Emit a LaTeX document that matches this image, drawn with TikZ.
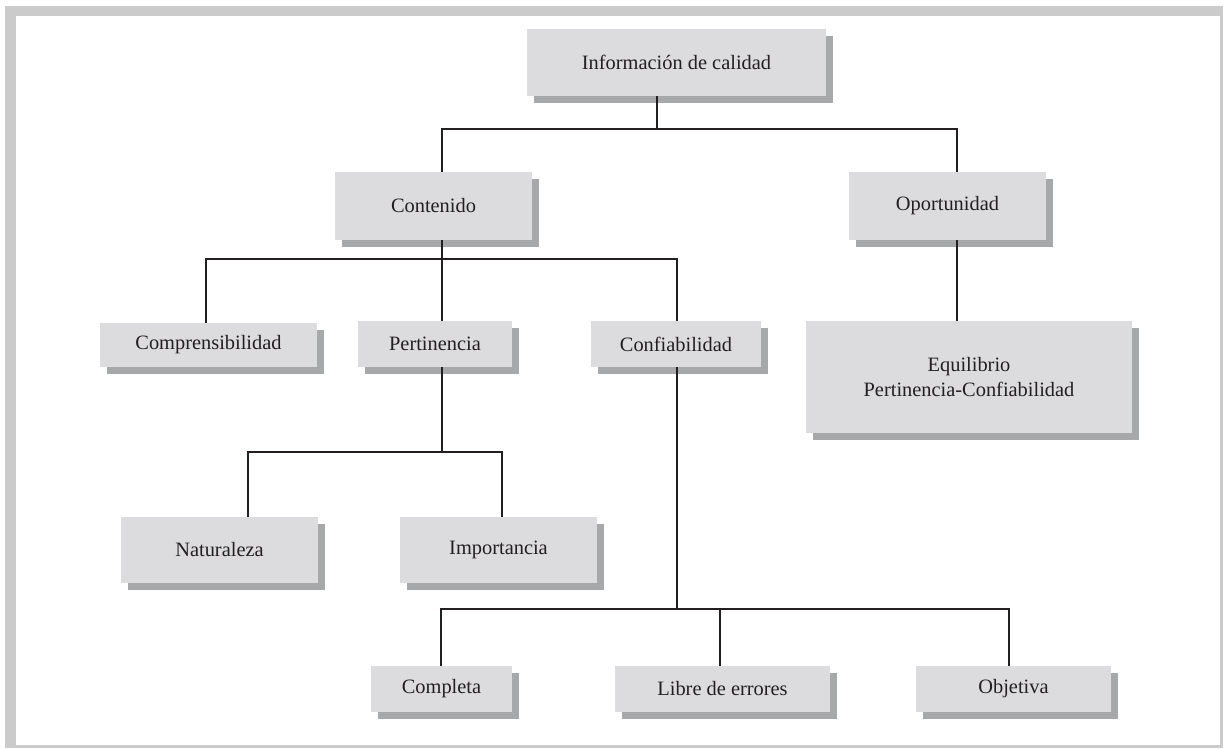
\documentclass[tikz,border=0pt]{standalone}
\usepackage{fontspec}
\setmainfont{Liberation Serif}
\usetikzlibrary{shadows}
\definecolor{framegray}{HTML}{CBCBCB}
\definecolor{boxfill}{HTML}{DCDCDE}
\definecolor{shadowgray}{HTML}{A7A8AA}
\definecolor{linecol}{HTML}{231F20}
\definecolor{textcol}{HTML}{231F20}
\begin{document}
\begin{tikzpicture}[x=1pt,y=-1pt,
  box/.style={fill=boxfill, draw=none, inner sep=0pt, text=textcol,
    font=\fontsize{20.4}{25}\selectfont, align=center,
    drop shadow={shadow xshift=7pt, shadow yshift=-7pt, fill=shadowgray, opacity=1}},
  conn/.style={draw=linecol, line width=1.5pt}]
\useasboundingbox (0,0) rectangle (1225,748);
\fill[framegray] (5,6) rectangle (1223,748);
\fill[white] (16,16) rectangle (1220,745);

\node[box, minimum width=299pt, minimum height=67pt] (info) at (676.5,62.5) {Información de calidad};
\node[box, minimum width=197pt, minimum height=68pt] (cont) at (433.5,206) {Contenido};
\node[box, minimum width=197pt, minimum height=68pt] (opor) at (947.5,206) {Oportunidad};
\node[box, minimum width=217pt, minimum height=44pt] (comp) at (208.5,345) {Comprensibilidad};
\node[box, minimum width=154pt, minimum height=46pt] (pert) at (435,344) {Pertinencia};
\node[box, minimum width=170pt, minimum height=46pt] (conf) at (676,344) {Confiabilidad};
\node[box, minimum width=326pt, minimum height=112pt] (equi) at (969,377) {Equilibrio\\Pertinencia-Confiabilidad};
\node[box, minimum width=197pt, minimum height=66pt] (nat) at (219.5,550) {Naturaleza};
\node[box, minimum width=197pt, minimum height=66pt] (imp) at (498.5,550) {Importancia};
\node[box, minimum width=141pt, minimum height=46pt] (compl) at (441.5,689) {Completa};
\node[box, minimum width=215pt, minimum height=46pt] (libre) at (722.5,689) {Libre de errores};
\node[box, minimum width=195pt, minimum height=46pt] (obj) at (1013.5,689) {Objetiva};

\draw[conn] ([xshift=-19.5pt]info.south) -- ++(0,33);
\draw[conn] ([xshift=8.5pt]cont.north) -- ++(0,-43) -| ([xshift=9.5pt]opor.north);
\draw[conn] ([xshift=8.5pt]cont.south) -- ([xshift=7pt]pert.north);
\draw[conn] ([xshift=-2.5pt]comp.north) -- ++(0,-64) -| ([xshift=1pt]conf.north);
\draw[conn] ([xshift=9.5pt]opor.south) -- ([xshift=-12pt]equi.north);
\draw[conn] ([xshift=7pt]pert.south) -- ++(0,85);
\draw[conn] ([xshift=28.5pt]nat.north) -- ++(0,-65) -| ([xshift=3.5pt]imp.north);
\draw[conn] ([xshift=1pt]conf.south) -- ++(0,242);
\draw[conn] ([xshift=-0.5pt]compl.north) -- ++(0,-57) -| ([xshift=-4.5pt]obj.north);
\draw[conn] ([xshift=-2.5pt]libre.north) -- ++(0,-57);
\end{tikzpicture}
\end{document}
